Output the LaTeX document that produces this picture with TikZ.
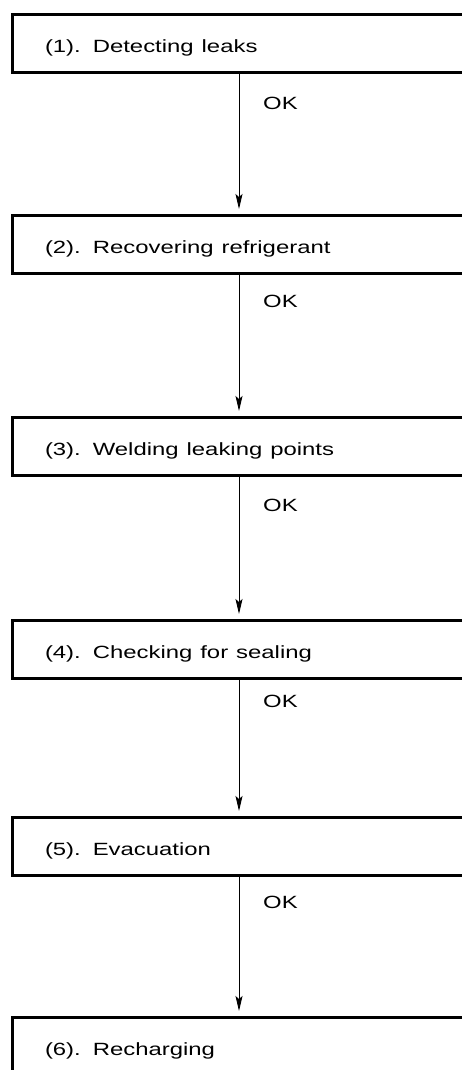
\documentclass[tikz,border=0pt]{standalone}
\usepackage{fontspec}
\setmainfont{Liberation Sans}
\usetikzlibrary{arrows.meta,positioning}

\def\boxwidth{454pt}
\newcommand\widetext[1]{\scalebox{1.35}[1]{#1}}

\begin{document}
\begin{tikzpicture}[x=1pt,y=1pt,shorten >=5pt,-{Stealth[length=15pt,width=7pt,inset=3pt]},draw=black]
    \tikzstyle{stepbox}=[draw=black,line width=3pt,minimum width=\boxwidth,minimum height=58pt,
        text width=388pt,align=left,inner xsep=33pt,text height=18pt,text depth=0pt,
        font=\fontsize{17.7}{20}\selectfont,anchor=north]
    \tikzstyle{oklabel}=[anchor=west,inner sep=0pt,font=\fontsize{17.7}{20}\selectfont]

    % Fix the page and cut the boxes at its edges
    \useasboundingbox (0,0) rectangle (462,-1070);
    \clip (0,0) rectangle (462,-1070);

    % Draw the step boxes
    \foreach \name / \y / \txt in {1/13/Detecting leaks,2/214/Recovering refrigerant,
        3/416/Welding leaking points,4/619/Checking for sealing,5/816/Evacuation,6/1016/Recharging}
        \node[stepbox] (S-\name) at (239,-\y) {\widetext{(\name). \txt}};

    % Connect every box with the next one
    \foreach \source / \dest / \oky in {1/2/103.5,2/3/301.5,3/4/505,4/5/701.5,5/6/902.5}
    {
        \draw[line width=1pt] (S-\source.south) -- (S-\dest.north);
        \node[oklabel] (ok-\source) at (263,-\oky) {\widetext{OK}};
    }
\end{tikzpicture}
\end{document}
